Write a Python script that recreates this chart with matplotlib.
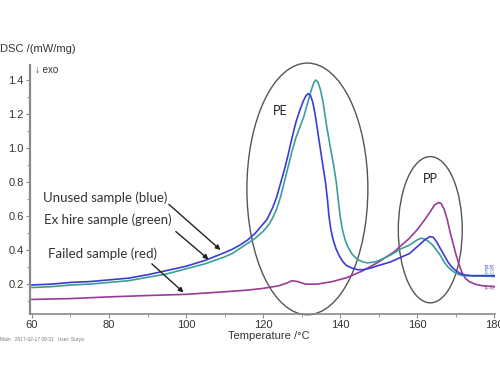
import numpy as np
import matplotlib
matplotlib.use('Agg')
import matplotlib.pyplot as plt
from matplotlib.patches import Ellipse
from matplotlib.ticker import MultipleLocator

# temperatures (degC) and DSC signal (mW/mg)
unused_t = [60, 65, 70, 75, 80, 85, 90, 95, 100, 105, 110, 112, 114, 116, 118,
            119.5, 121, 122.5, 123.5, 124.5, 125.5, 126.5, 127.5, 128.5, 129.5,
            130.5, 131.2, 131.7, 132.3, 132.9, 133.5, 134.5, 135.5, 136.2,
            136.7, 137.1, 137.6, 138.2, 138.9, 139.7, 140.6, 141.6, 143, 144.5,
            146, 148, 150, 153, 156, 158, 160, 161, 162, 163.3, 164.2, 165, 166,
            167, 168, 169, 170, 171, 172, 174, 180]
unused_v = [0.195, 0.20, 0.21, 0.215, 0.225, 0.235, 0.255, 0.28, 0.305, 0.34,
            0.385, 0.405, 0.43, 0.46, 0.50, 0.54, 0.58, 0.65, 0.71, 0.79, 0.87,
            0.96, 1.06, 1.15, 1.22, 1.28, 1.31, 1.32, 1.31, 1.27, 1.20, 1.05,
            0.90, 0.80, 0.70, 0.60, 0.52, 0.46, 0.41, 0.37, 0.335, 0.31, 0.295,
            0.285, 0.285, 0.295, 0.31, 0.33, 0.36, 0.38, 0.42, 0.44, 0.46, 0.48,
            0.475, 0.45, 0.41, 0.37, 0.33, 0.30, 0.28, 0.265, 0.255, 0.25, 0.25]

exhire_t = [60, 65, 70, 75, 80, 85, 90, 95, 100, 105, 110, 112, 114, 116, 118,
            120, 121.5, 122.5, 123.5, 124.5, 125.5, 126.5, 127.5, 128.5, 129.5,
            130.5, 131.5, 132.5, 133.1, 133.6, 134.2, 134.8, 135.5, 136.5,
            137.5, 138.3, 139.0, 139.5, 140.0, 140.6, 141.3, 142, 143, 144, 145,
            146, 147, 149, 150.2, 153, 156, 158, 159, 160, 161, 162, 163, 164,
            165, 166, 167, 168, 169, 170, 171, 172, 180]
exhire_v = [0.18, 0.185, 0.195, 0.20, 0.21, 0.22, 0.24, 0.26, 0.29, 0.32, 0.36,
            0.38, 0.41, 0.44, 0.47, 0.51, 0.55, 0.59, 0.64, 0.71, 0.80, 0.89,
            0.98, 1.06, 1.12, 1.18, 1.26, 1.34, 1.38, 1.40, 1.39, 1.35, 1.28,
            1.13, 1.00, 0.90, 0.80, 0.70, 0.60, 0.52, 0.46, 0.42, 0.38, 0.355,
            0.34, 0.33, 0.325, 0.33, 0.34, 0.37, 0.41, 0.43, 0.445, 0.46, 0.47,
            0.465, 0.45, 0.43, 0.40, 0.37, 0.33, 0.30, 0.28, 0.265, 0.255, 0.25,
            0.245]

failed_t = [60, 70, 80, 90, 100, 110, 116, 120, 124, 126, 127.5, 129, 131, 134,
            138, 142, 146, 150, 154, 158, 160, 162, 163.5, 164.5, 165.5, 166.2,
            167, 167.8, 168.5, 169.3, 170, 170.8, 171.6, 172.5, 173.5, 175, 177,
            180]
failed_v = [0.11, 0.115, 0.125, 0.133, 0.14, 0.155, 0.165, 0.175, 0.19, 0.205,
            0.22, 0.215, 0.20, 0.20, 0.215, 0.24, 0.28, 0.33, 0.39, 0.47, 0.52,
            0.58, 0.63, 0.665, 0.68, 0.675, 0.64, 0.58, 0.51, 0.44, 0.38, 0.32,
            0.27, 0.235, 0.215, 0.20, 0.19, 0.185]

x_ticks = [60, 80, 100, 120, 140, 160, 180]
y_ticks = [0.2, 0.4, 0.6, 0.8, 1.0, 1.2, 1.4]

BLUE = '#3b3bd6'
GREEN = '#3a9f9b'
PURPLE = '#9a3a98'
AXIS = '#8a8a8a'

plt.rcParams['font.family'] = ['Liberation Sans', 'DejaVu Sans']

fig = plt.figure(figsize=(5.0, 3.83), dpi=100)
ax = fig.add_axes([0.06, 0.18, 0.93, 0.65])

ax.plot(failed_t, failed_v, color=PURPLE, lw=1.2)
ax.plot(exhire_t, exhire_v, color=GREEN, lw=1.2)
ax.plot(unused_t, unused_v, color=BLUE, lw=1.2)

ax.set_xlim(59.5, 180.2)
ax.set_ylim(0.024, 1.488)
ax.set_xticks(x_ticks)
ax.set_yticks(y_ticks)
ax.set_yticklabels(['%.1f' % v for v in y_ticks])
ax.xaxis.set_minor_locator(MultipleLocator(10))
ax.yaxis.set_minor_locator(MultipleLocator(0.1))
ax.tick_params(which='major', length=3, width=0.8, color=AXIS,
               labelsize=8, labelcolor='#333333', pad=1.5)
ax.tick_params(which='minor', length=2, width=0.6, color=AXIS)
for s in ['top', 'right']:
    ax.spines[s].set_visible(False)
ax.spines['left'].set_color(AXIS)
ax.spines['left'].set_linewidth(1.6)
ax.spines['bottom'].set_color(AXIS)
ax.spines['bottom'].set_linewidth(1.2)

# circled regions
ax.add_patch(Ellipse((131.5, 0.76), 31.4, 1.48, fill=False,
                     edgecolor='#555555', lw=1.0, clip_on=False))
ax.add_patch(Ellipse((163.4, 0.52), 16.6, 0.86, fill=False,
                     edgecolor='#555555', lw=1.0, clip_on=False))
ax.text(124.5, 1.22, 'PE', fontsize=9, family='Lato', color='#222222',
        ha='center', va='center')
ax.text(163.4, 0.82, 'PP', fontsize=9, family='Lato', color='#222222',
        ha='center', va='center')

# annotations
lab_kw = dict(fontsize=9.5, family='Lato', color='#333333', va='center')
ax.text(62.9, 0.71, 'Unused sample (blue)', **lab_kw)
ax.text(63.1, 0.58, 'Ex hire sample (green)', **lab_kw)
ax.text(64.1, 0.38, 'Failed sample (red)', **lab_kw)
arr = dict(arrowstyle='-|>', color='#222222', lw=1.0, mutation_scale=7)
ax.annotate('', xy=(109.5, 0.39), xytext=(95.0, 0.68), arrowprops=arr)
ax.annotate('', xy=(106.4, 0.335), xytext=(96.8, 0.52), arrowprops=arr)
ax.annotate('', xy=(99.9, 0.14), xytext=(90.6, 0.33), arrowprops=arr)

ax.text(60.8, 1.46, '\u2193 exo', fontsize=7, color='#333333', va='center')
fig.text(0.0, 1 - 49 / 383, 'DSC /(mW/mg)', fontsize=8, color='#333333',
         va='center')
fig.text(228 / 500, 1 - 336 / 383, 'Temperature /\u00b0C', fontsize=8,
         color='#333333', va='center')
fig.text(0.0, 1 - 340 / 383, 'Main   2017-02-17 09:31   User: Surya',
         fontsize=3.5, color='#777777', va='center')

# end-of-curve tags
ax.text(177.4, 0.30, '[3.5]', fontsize=3.5, color=BLUE, va='center')
ax.text(177.4, 0.268, '[1.1]', fontsize=3.5, color=GREEN, va='center')
ax.text(177.4, 0.18, '[1.1]', fontsize=3.5, color=PURPLE, va='center')

fig.savefig('out.png', dpi=100)
